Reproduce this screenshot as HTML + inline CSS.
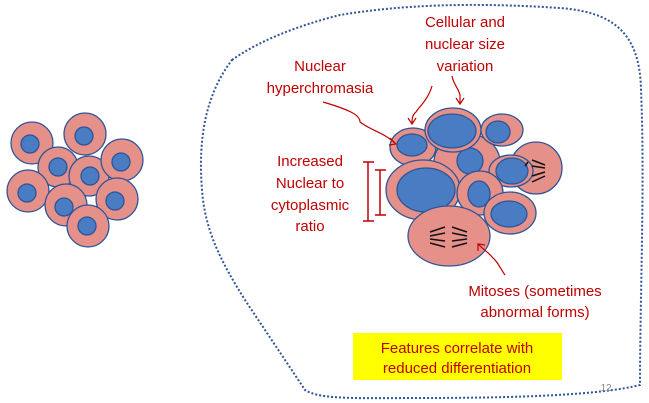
<!DOCTYPE html><html><head><style>body{margin:0;background:#fff;width:649px;height:403px;overflow:hidden}svg{display:block}text{font-family:"Liberation Sans",sans-serif}</style></head><body>
<svg width="649" height="403" viewBox="0 0 649 403">
<path d="M232,60 C260,40 300,25 340,15 C400,5 470,2 560,8 C610,12 640,30 641,90 C645,180 640,300 640,385 C600,395 520,398 420,398 C360,398 320,400 305,390 C285,360 265,330 245,300 C220,260 205,230 202,190 C198,140 205,95 232,60 Z" fill="none" stroke="#2f5597" stroke-width="2" stroke-dasharray="2,2"/>
<g stroke="#2f5597" stroke-width="1.3">
<g fill="#e6908a">
<circle cx="32" cy="143" r="21"/><circle cx="85" cy="134" r="21"/><circle cx="58" cy="167" r="20"/><circle cx="89" cy="176" r="20"/><circle cx="122" cy="160" r="21"/><circle cx="28" cy="191" r="21"/><circle cx="66" cy="205" r="21"/><circle cx="117" cy="199" r="21"/><circle cx="88" cy="226" r="21"/>
</g>
<g fill="#4a7cc3">
<circle cx="30" cy="144" r="9"/><circle cx="84" cy="136" r="9"/><circle cx="58" cy="167" r="9"/><circle cx="90" cy="176" r="9"/><circle cx="121" cy="162" r="9"/><circle cx="27" cy="193" r="9"/><circle cx="64" cy="207" r="9"/><circle cx="115" cy="201" r="9"/><circle cx="87" cy="226" r="9"/>
</g>
<ellipse cx="467" cy="162" rx="33" ry="28" fill="#e6908a"/><circle cx="470" cy="161" r="13" fill="#4a7cc3"/>
<ellipse cx="413" cy="147" rx="23" ry="19" fill="#e6908a"/><ellipse cx="412" cy="145" rx="15" ry="11" fill="#4a7cc3"/>
<ellipse cx="453" cy="130" rx="28" ry="22" fill="#e6908a"/><ellipse cx="452" cy="131" rx="24" ry="17" fill="#4a7cc3"/>
<ellipse cx="502" cy="130" rx="21" ry="16" fill="#e6908a"/><ellipse cx="498" cy="132" rx="12" ry="11" fill="#4a7cc3"/>
<circle cx="536" cy="168" r="26" fill="#e6908a"/>
<ellipse cx="511" cy="171" rx="22" ry="16" fill="#e6908a"/><ellipse cx="512" cy="171" rx="16" ry="13" fill="#4a7cc3"/>
<ellipse cx="423" cy="190" rx="37" ry="30" fill="#e6908a"/><ellipse cx="426" cy="190" rx="29" ry="22" fill="#4a7cc3"/>
<ellipse cx="480" cy="193" rx="23" ry="22" fill="#e6908a"/><ellipse cx="479" cy="194" rx="11" ry="13" fill="#4a7cc3"/>
<ellipse cx="510" cy="213" rx="26" ry="21" fill="#e6908a"/><ellipse cx="509" cy="214" rx="18" ry="13" fill="#4a7cc3"/>
<ellipse cx="449" cy="236" rx="41" ry="30" fill="#e6908a"/>
</g>
<g stroke="#111" stroke-width="1.5" fill="none">
<path d="M445,227 L430,232 M445,233 L430,236 M445,241 L430,239 M445,247 L430,243 M452,227 L467,232 M452,233 L467,236 M452,241 L467,239 M452,247 L467,243"/>
<path d="M532,160 L545,165 M532,166 L545,168 M532,176 L545,172 M532,182 L545,176 M528,162 L525,166"/>
</g>
<g stroke="#c00000" stroke-width="1.2" fill="none">
<path d="M323,102 C350,110 360,115 360,122 C370,130 385,133 396,144"/><path d="M390,138 L396,144 L389,145"/>
<path d="M432,86 C428,100 418,108 416,112 C412,115 412,120 412,123"/><path d="M408,118 L412,124 L416,118"/>
<path d="M452,76 C454,86 460,90 460,96 L460,103"/><path d="M456,98 L460,104 L464,98"/>
<path d="M505,275 C500,268 498,262 493,258 C488,252 484,250 478,244"/><path d="M478,251 L478,244 L485,245"/>
<path d="M368,162 V221 M363,162 H374 M363,221 H374 M380,170 V215 M375,170 H386 M375,215 H386" stroke-width="1.5"/>
</g>
<g fill="#c00000" font-size="15" text-anchor="middle">
<text x="465" y="27">Cellular and</text><text x="465" y="49">nuclear size</text><text x="465" y="71">variation</text>
<text x="320" y="71">Nuclear</text><text x="320" y="93">hyperchromasia</text>
<text x="310" y="166">Increased</text><text x="310" y="188">Nuclear to</text><text x="310" y="210">cytoplasmic</text><text x="310" y="231">ratio</text>
<text x="535" y="296">Mitoses (sometimes</text><text x="535" y="317">abnormal forms)</text>
</g>
<rect x="353" y="333" width="209" height="47" fill="#ffff00"/>
<g fill="#c00000" font-size="15" text-anchor="middle">
<text x="457" y="353">Features correlate with</text><text x="457" y="373">reduced differentiation</text>
</g>
<text x="606" y="391" font-size="10" fill="#888" text-anchor="middle">12</text>
</svg></body></html>
